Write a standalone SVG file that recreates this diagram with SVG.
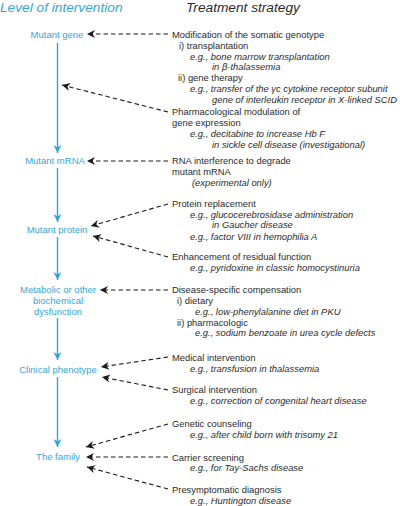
<svg xmlns="http://www.w3.org/2000/svg" width="400" height="506" viewBox="0 0 400 506">
<defs>
<style>
text{font-family:"Liberation Sans",Arial,sans-serif;}
.t{font-size:9.4px;fill:#2b2b2b;}
.i{font-style:italic;}
.lv{font-size:9.5px;fill:#33a8d9;text-anchor:middle;}
.h{font-size:13.7px;font-style:italic;}
.flow{stroke:#29a6da;stroke-width:1.4;fill:none;marker-end:url(#ab);}
.d{stroke:#1a1a1a;stroke-width:1.1;stroke-dasharray:4.5 3;fill:none;marker-end:url(#ak);}
</style>
<marker id="ab" viewBox="0 0 10 10" refX="10" refY="5" markerUnits="userSpaceOnUse" markerWidth="8" markerHeight="9" orient="auto">
<path d="M0,0 L10,5 L0,10 L3,5 z" fill="#29a6da"/>
</marker>
<marker id="ak" viewBox="0 0 10 10" refX="10" refY="5" markerUnits="userSpaceOnUse" markerWidth="9" markerHeight="8" orient="auto">
<path d="M0,0 L10,5 L0,10 L3,5 z" fill="#1a1a1a"/>
</marker>
</defs>

<text class="h" x="0" y="12" fill="#33a8d9">Level of intervention</text>
<text class="h" x="186" y="12" fill="#2b2b2b">Treatment strategy</text>

<g id="level-mutant-gene"><text class="lv" x="57" y="37.5">Mutant gene</text></g>
<g id="level-mutant-mrna"><text class="lv" x="55" y="164">Mutant mRNA</text></g>
<g id="level-mutant-protein"><text class="lv" x="57" y="232.5">Mutant protein</text></g>
<g id="level-metabolic"><text class="lv" x="58" y="292.5">Metabolic or other</text><text class="lv" x="58" y="303.5">biochemical</text><text class="lv" x="58" y="314.5">dysfunction</text></g>
<g id="level-clinical"><text class="lv" x="58" y="372.5">Clinical phenotype</text></g>
<g id="level-family"><text class="lv" x="58" y="459.5">The family</text></g>

<g id="strategy-somatic">
<text class="t" x="172" y="37.5">Modification of the somatic genotype</text>
<text class="t" x="179" y="48.5">i) transplantation</text>
<text class="t i" x="190" y="59.5">e.g., bone marrow transplantation</text>
<text class="t i" x="212" y="70">in β-thalassemia</text>
<text class="t" x="178" y="81">ii) gene therapy</text>
<text class="t i" x="190" y="91.5">e.g., transfer of the γc cytokine receptor subunit</text>
<text class="t i" x="212" y="102.5">gene of interleukin receptor in X-linked SCID</text>
</g>
<g id="strategy-pharmacological">
<text class="t" x="172" y="115">Pharmacological modulation of</text>
<text class="t" x="172" y="126">gene expression</text>
<text class="t i" x="190" y="137">e.g., decitabine to increase Hb F</text>
<text class="t i" x="212" y="148">in sickle cell disease (investigational)</text>
</g>
<g id="strategy-rnai">
<text class="t" x="172" y="164">RNA interference to degrade</text>
<text class="t" x="172" y="174.5">mutant mRNA</text>
<text class="t i" x="192" y="185.5">(experimental only)</text>
</g>
<g id="strategy-protein-replacement">
<text class="t" x="172" y="206.5">Protein replacement</text>
<text class="t i" x="190" y="217.5">e.g., glucocerebrosidase administration</text>
<text class="t i" x="212" y="228">in Gaucher disease</text>
<text class="t i" x="190" y="239.5">e.g., factor VIII in hemophilia A</text>
</g>
<g id="strategy-enhancement">
<text class="t" x="172" y="260">Enhancement of residual function</text>
<text class="t i" x="190" y="270.5">e.g., pyridoxine in classic homocystinuria</text>
</g>
<g id="strategy-compensation">
<text class="t" x="172" y="293">Disease-specific compensation</text>
<text class="t" x="177" y="303.5">i) dietary</text>
<text class="t i" x="195" y="314.5">e.g., low-phenylalanine diet in PKU</text>
<text class="t" x="177" y="325.5">ii) pharmacologic</text>
<text class="t i" x="195" y="336">e.g., sodium benzoate in urea cycle defects</text>
</g>
<g id="strategy-medical">
<text class="t" x="172" y="361">Medical intervention</text>
<text class="t i" x="190" y="371.5">e.g., transfusion in thalassemia</text>
</g>
<g id="strategy-surgical">
<text class="t" x="172" y="393">Surgical intervention</text>
<text class="t i" x="190" y="404">e.g., correction of congenital heart disease</text>
</g>
<g id="strategy-counseling">
<text class="t" x="172" y="427">Genetic counseling</text>
<text class="t i" x="190" y="437.5">e.g., after child born with trisomy 21</text>
</g>
<g id="strategy-carrier">
<text class="t" x="172" y="460.5">Carrier screening</text>
<text class="t i" x="190" y="471">e.g., for Tay-Sachs disease</text>
</g>
<g id="strategy-presymptomatic">
<text class="t" x="172" y="493">Presymptomatic diagnosis</text>
<text class="t i" x="190" y="503.5">e.g., Huntington disease</text>
</g>

<g id="connectors">
<line class="flow" x1="57.5" y1="43" x2="57.5" y2="153"/>
<line class="flow" x1="57.5" y1="168" x2="57.5" y2="222"/>
<line class="flow" x1="57.5" y1="237" x2="57.5" y2="280"/>
<line class="flow" x1="57.5" y1="318" x2="57.5" y2="360"/>
<line class="flow" x1="57.5" y1="377" x2="57.5" y2="447"/>

<line class="d" x1="168" y1="34" x2="87" y2="34"/>
<line class="d" x1="168" y1="112" x2="62" y2="85"/>
<line class="d" x1="168" y1="161" x2="87" y2="161"/>
<line class="d" x1="168" y1="204" x2="91" y2="226"/>
<line class="d" x1="168" y1="257" x2="93" y2="236"/>
<line class="d" x1="168" y1="290" x2="100" y2="290"/>
<line class="d" x1="168" y1="357" x2="101" y2="367"/>
<line class="d" x1="168" y1="390" x2="102" y2="377"/>
<line class="d" x1="168" y1="424" x2="86" y2="447"/>
<line class="d" x1="168" y1="457" x2="86" y2="457"/>
<line class="d" x1="168" y1="489" x2="87" y2="467"/>
</g>
</svg>
